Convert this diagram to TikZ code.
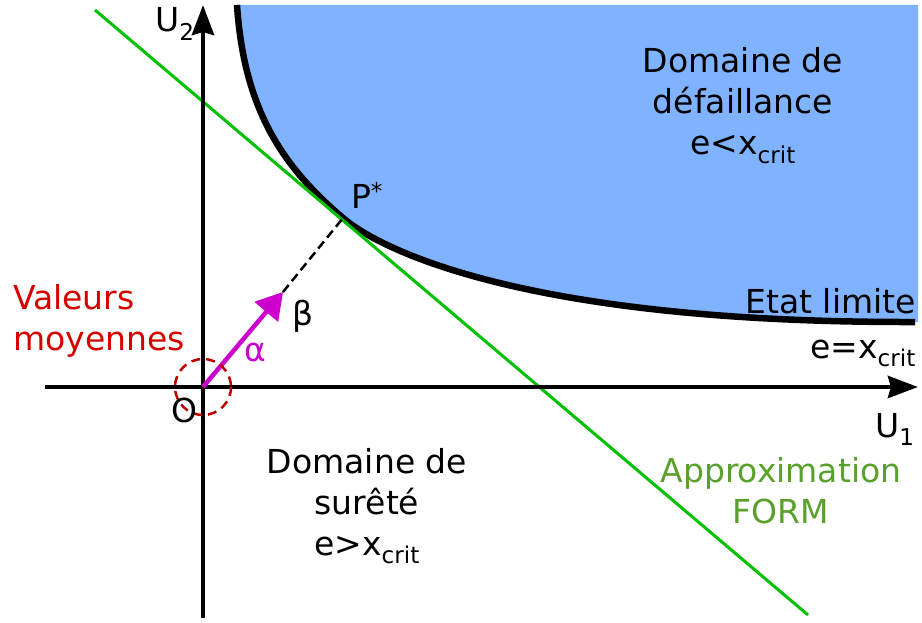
\documentclass[tikz,border=0pt]{standalone}
\usepackage{fontspec}
\setmainfont{DejaVu Sans}
\usetikzlibrary{arrows.meta}
\definecolor{failblue}{HTML}{80B3FF}
\definecolor{formgreen}{HTML}{00C000}
\definecolor{formtext}{HTML}{5AA02C}
\definecolor{meanred}{HTML}{D40000}
\definecolor{alphamag}{HTML}{CC00CC}

\begin{document}
\begin{tikzpicture}[x=1pt,y=-1pt,
  lbl/.style={inner sep=0pt,font=\fontsize{33}{41}\selectfont},
  blk/.style={lbl,align=center,anchor=base},
  axis/.style={line width=4.5pt,-{Stealth[length=30pt,width=22pt,inset=3pt]}},
  lim/.style={line width=6.5pt,line join=round},
  form/.style={line width=3pt,formgreen},
  vec/.style={line width=4.5pt,alphamag,-{Triangle[length=26pt,width=30pt]}},
  proj/.style={line width=2.5pt,dash pattern=on 9pt off 5pt},
  mean/.style={line width=2.5pt,meanred!90!black,dash pattern=on 9pt off 6pt}]
\useasboundingbox (0,0) rectangle (922,623);
% points
\coordinate (O) at (203,387);
\coordinate (x0) at (45,387);
\coordinate (x1) at (918,387);
\coordinate (y0) at (203,618);
\coordinate (y1) at (203,5);
\coordinate (P) at (343,218);
\coordinate (A) at (283,292);
\coordinate (f0) at (95,10);
\coordinate (f1) at (808,615);
\coordinate (g0) at (237,5);
\coordinate (g1) at (915,322);
% failure domain and limit state
\fill[failblue] (g0) .. controls (244,110) and (283,167) .. (P)
  .. controls (378,248) and (520,323) .. (g1) -- (918,322) -- (918,5) -- cycle;
\draw[lim] (g0) .. controls (244,110) and (283,167) .. (P)
  .. controls (378,248) and (520,323) .. (g1);
\draw[form] (f0) -- (f1);
% axes
\draw[axis] (x0) -- (x1);
\draw[axis] (y0) -- (y1);
\draw[proj] (A) -- (P);
\draw[vec] (O) -- (A);
\draw[mean] (O) circle (28);
% labels
\node[lbl,anchor=base] (u2) at (175,32) {U\textsubscript{2}};
\node[lbl,anchor=base] (u1) at (895,437) {U\textsubscript{1}};
\node[lbl,anchor=base] (o) at (184,422) {O};
\node[lbl,anchor=base] (pl) at (367,209) {P\textsuperscript{*}};
\node[lbl,anchor=base] (beta) at (303,325) {β};
\node[lbl,anchor=base,alphamag] (alpha) at (255,361) {α};
\node[lbl,align=left,anchor=base west,meanred] (mean) at (13,350) {Valeurs\\moyennes};
\node[lbl,anchor=base east] (etat) at (916,313) {Etat limite};
\node[lbl,anchor=base east] (eq) at (916,358) {e=x\textsubscript{crit}};
\node[blk] (fail) at (743,155) {Domaine de\\défaillance\\e<x\textsubscript{crit}};
\node[blk] (safe) at (367,555) {Domaine de\\surêté\\e>x\textsubscript{crit}};
\node[blk,formtext] (approx) at (781,523) {Approximation\\FORM};
\end{tikzpicture}
\end{document}
